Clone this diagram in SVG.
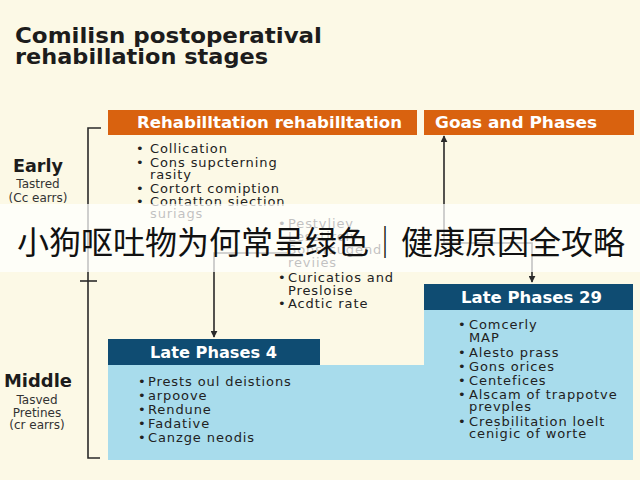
<svg xmlns="http://www.w3.org/2000/svg" width="640" height="480" viewBox="0 0 640 480">
<defs>
<style>
.title{font-family:"DejaVu Sans","Liberation Sans",sans-serif;font-weight:bold;font-size:21px;fill:#1c1c1c}
.hdr{font-family:"DejaVu Sans","Liberation Sans",sans-serif;font-weight:bold;font-size:15px;fill:#ffffff}
.txt{font-family:"DejaVu Sans","Liberation Sans",sans-serif;font-size:13px;letter-spacing:0.9px;fill:#222222}
.stage{font-family:"DejaVu Sans","Liberation Sans",sans-serif;font-weight:bold;font-size:17px;fill:#1c1c1c}
.sub{font-family:"DejaVu Sans","Liberation Sans",sans-serif;font-size:12px;fill:#333333}
.ln{stroke:#2a2a2a;stroke-width:1.6;fill:none}
.cap{font-family:"Noto Sans CJK SC","Noto Sans CJK JP",sans-serif;font-size:32px;fill:#111111}
</style>
<marker id="ah" viewBox="0 0 10 10" refX="9" refY="5" markerWidth="7" markerHeight="7" orient="auto-start-reverse" markerUnits="userSpaceOnUse">
<path d="M0,0 L10,5 L0,10 z" fill="#2a2a2a"/>
</marker>
</defs>
<rect x="0" y="0" width="640" height="480" fill="#fcf9e6"/>

<g id="title">
<text class="title" x="15" y="43" textLength="307" lengthAdjust="spacingAndGlyphs">Comilisn postoperatival</text>
<text class="title" x="15" y="64" textLength="253" lengthAdjust="spacingAndGlyphs">rehabillation stages</text>
</g>

<g id="stage-early">
<text class="stage" x="38" y="172" text-anchor="middle" textLength="50" lengthAdjust="spacingAndGlyphs">Early</text>
<text class="sub" x="38" y="188" text-anchor="middle">Tastred</text>
<text class="sub" x="38" y="202" text-anchor="middle">(Cc earrs)</text>
</g>

<g id="stage-middle">
<text class="stage" x="38" y="387" text-anchor="middle" textLength="68" lengthAdjust="spacingAndGlyphs">Middle</text>
<text class="sub" x="37" y="404" text-anchor="middle">Tasved</text>
<text class="sub" x="37" y="417" text-anchor="middle">Pretines</text>
<text class="sub" x="37" y="429" text-anchor="middle">(cr earrs)</text>
</g>

<g id="node-rehab">
<rect x="108" y="110" width="309" height="25" fill="#d9620f"/>
<text class="hdr" x="137" y="128" textLength="265" lengthAdjust="spacingAndGlyphs">Rehabilltation rehabilltation</text>
<text class="txt" x="136" y="153">•</text><text class="txt" x="150" y="153">Collication</text>
<text class="txt" x="136" y="167">•</text><text class="txt" x="150" y="167">Cons supcterning</text>
<text class="txt" x="150" y="179">rasity</text>
<text class="txt" x="136" y="193">•</text><text class="txt" x="150" y="193">Cortort comiption</text>
<text class="txt" x="136" y="206">•</text><text class="txt" x="150" y="206">Contatton siection</text>
<text class="txt" x="150" y="218">suriags</text>
</g>

<g id="node-goals">
<rect x="424" y="110" width="210" height="25" fill="#d9620f"/>
<text class="hdr" x="435" y="128" textLength="162" lengthAdjust="spacingAndGlyphs">Goas and Phases</text>
</g>

<g id="node-list2">
<text class="txt" x="278" y="228">•</text><text class="txt" x="288" y="228">Pestvliey</text>
<text class="txt" x="288" y="241">Lesstiroly</text>
<text class="txt" x="278" y="254">•</text><text class="txt" x="288" y="254">Sonsrsugend</text>
<text class="txt" x="288" y="267">reviies</text>
<text class="txt" x="278" y="282">•</text><text class="txt" x="288" y="282">Curicatios and</text>
<text class="txt" x="288" y="295">Presloise</text>
<text class="txt" x="278" y="308">•</text><text class="txt" x="288" y="308">Acdtic rate</text>
</g>

<g id="body">
<path d="M108,365 H424 V310 H633 V460 H108 Z" fill="#a8dcec"/>
</g>

<g id="node-late4">
<rect x="108" y="339" width="212" height="26" fill="#0f4c72"/>
<text class="hdr" x="150" y="358" textLength="127" lengthAdjust="spacingAndGlyphs">Late Phases 4</text>
<text class="txt" x="138" y="386">•</text><text class="txt" x="148" y="386">Prests oul deistions</text>
<text class="txt" x="138" y="400">•</text><text class="txt" x="148" y="400">arpoove</text>
<text class="txt" x="138" y="414">•</text><text class="txt" x="148" y="414">Rendune</text>
<text class="txt" x="138" y="428">•</text><text class="txt" x="148" y="428">Fadative</text>
<text class="txt" x="138" y="442">•</text><text class="txt" x="148" y="442">Canzge neodis</text>
</g>

<g id="node-late29">
<rect x="424" y="284" width="209" height="26" fill="#0f4c72"/>
<text class="hdr" x="461" y="303" textLength="141" lengthAdjust="spacingAndGlyphs">Late Phases 29</text>
<text class="txt" x="458" y="329">•</text><text class="txt" x="469" y="329">Comcerly</text>
<text class="txt" x="469" y="342">MAP</text>
<text class="txt" x="458" y="357">•</text><text class="txt" x="469" y="357">Alesto prass</text>
<text class="txt" x="458" y="371">•</text><text class="txt" x="469" y="371">Gons orices</text>
<text class="txt" x="458" y="385">•</text><text class="txt" x="469" y="385">Centefices</text>
<text class="txt" x="458" y="399">•</text><text class="txt" x="469" y="399">Alscam of trappotve</text>
<text class="txt" x="469" y="411">prevples</text>
<text class="txt" x="458" y="426">•</text><text class="txt" x="469" y="426">Cresbilitation loelt</text>
<text class="txt" x="469" y="438">cenigic of worte</text>
</g>

<g id="connectors">
<path class="ln" d="M101,128 H88 V458 H100"/>
<path class="ln" d="M80,281 H97"/>
<path class="ln" d="M287,253 H214 V337" marker-end="url(#ah)"/>
<path class="ln" d="M532,282 V243 H444 V136" marker-start="url(#ah)" marker-end="url(#ah)"/>
</g>

<g id="caption">
<rect x="0" y="204" width="640" height="68" fill="#ffffff" fill-opacity="0.72"/>
<text class="cap" x="321" y="254" text-anchor="middle">小狗呕吐物为何常呈绿色｜健康原因全攻略</text>
</g>
</svg>
